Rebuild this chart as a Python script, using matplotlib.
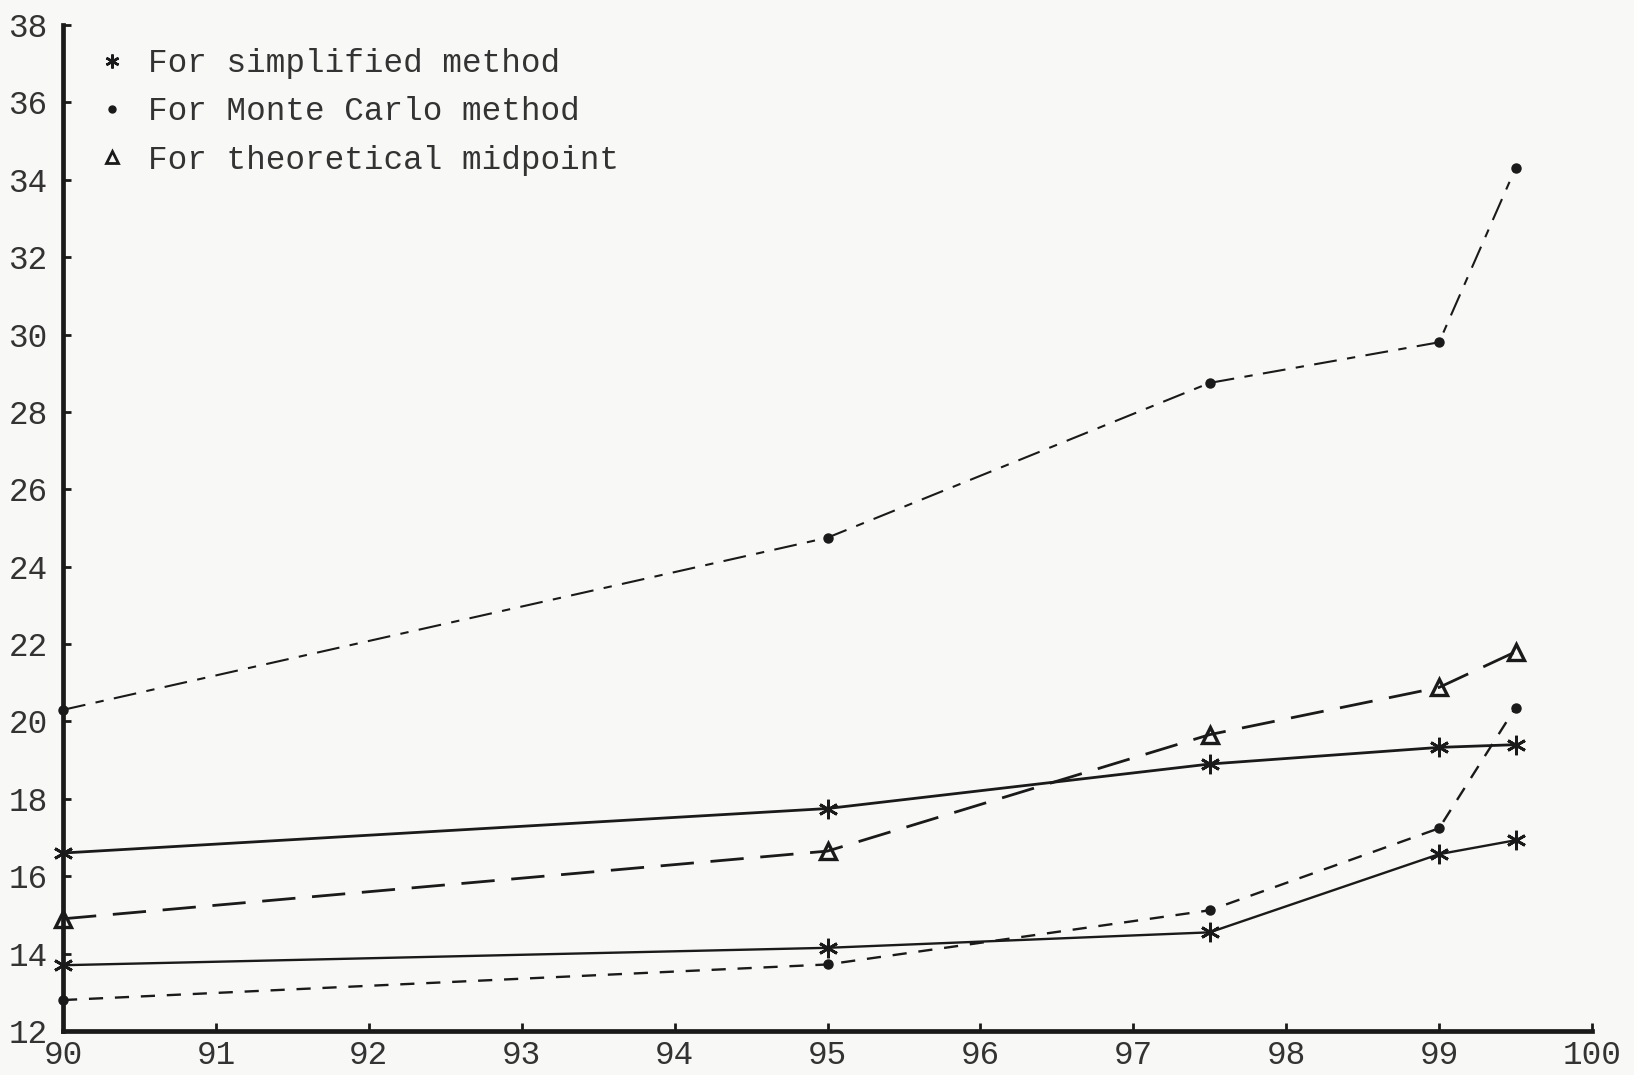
import matplotlib.pyplot as plt
from matplotlib.lines import Line2D

# confidence level (%) on the x axis
confidence = [90, 95, 97.5, 99, 99.5]

simplified_upper = [16.6, 17.75, 18.9, 19.33, 19.4]
simplified_lower = [13.7, 14.15, 14.55, 16.57, 16.93]
monte_carlo_upper = [20.3, 24.75, 28.75, 29.8, 34.3]
monte_carlo_lower = [12.8, 13.72, 15.12, 17.24, 20.36]
theoretical_mid = [14.9, 16.65, 19.66, 20.88, 21.8]

x_ticks = list(range(90, 101))
y_ticks = list(range(12, 39, 2))

legend_labels = ['For simplified method',
                 'For Monte Carlo method',
                 'For theoretical midpoint']

FONT = 'Liberation Mono'
FS = 23.5
BG = '#f8f8f6'
INK = '#1a1a1a'

fig = plt.figure(figsize=(16.34, 10.75), dpi=100, facecolor=BG)
ax = fig.add_axes([63 / 1634, 1 - 1031 / 1075, 1529 / 1634, 1006 / 1075])
ax.set_facecolor(BG)

star = dict(marker=(6, 2, 0), markersize=14, markeredgewidth=2.0,
            color=INK, clip_on=False)
dot = dict(marker='o', markersize=6.5, color=INK, clip_on=False)
tri = dict(marker='^', markersize=11, markerfacecolor='none',
           markeredgewidth=2.4, color=INK, clip_on=False)

ax.plot(confidence, simplified_upper, linestyle='-', linewidth=2.0, **star)
ax.plot(confidence, simplified_lower, linestyle='-', linewidth=1.7, **star)
ax.plot(confidence, monte_carlo_upper, linestyle=(0, (11, 5, 4, 5)),
        linewidth=1.5, **dot)
ax.plot(confidence, monte_carlo_lower, linestyle=(0, (6, 5)),
        linewidth=1.7, **dot)
ax.plot(confidence, theoretical_mid, linestyle=(0, (12, 6)),
        linewidth=2.0, **tri)

ax.set_xlim(90, 100)
ax.set_ylim(12, 38)
ax.set_xticks(x_ticks)
ax.set_yticks(y_ticks)

for side in ['top', 'right']:
    ax.spines[side].set_visible(False)
for side in ['left', 'bottom']:
    ax.spines[side].set_linewidth(3.4)
    ax.spines[side].set_color(INK)

ax.tick_params(axis='both', direction='in', length=6, width=2,
               colors=INK, labelsize=FS, labelcolor='#333333')
ax.tick_params(axis='y', pad=11)
ax.tick_params(axis='x', pad=6.5)
for lbl in ax.get_xticklabels() + ax.get_yticklabels():
    lbl.set_fontfamily(FONT)

handles = [
    Line2D([], [], linestyle='none', marker=(6, 2, 0), markersize=10,
           markeredgewidth=1.8, color=INK),
    Line2D([], [], linestyle='none', marker='o', markersize=5, color=INK),
    Line2D([], [], linestyle='none', marker='^', markersize=8.5,
           markerfacecolor='none', markeredgewidth=2.0, color=INK),
]
ax.legend(handles, legend_labels, loc='upper left',
          bbox_to_anchor=(0.0214, 0.977), frameon=False,
          borderpad=0, borderaxespad=0, handlelength=1.0,
          handletextpad=0.6, labelspacing=0.53,
          prop={'family': FONT, 'size': FS}, labelcolor='#333333')

fig.savefig('out.png', dpi=100, facecolor=BG)
